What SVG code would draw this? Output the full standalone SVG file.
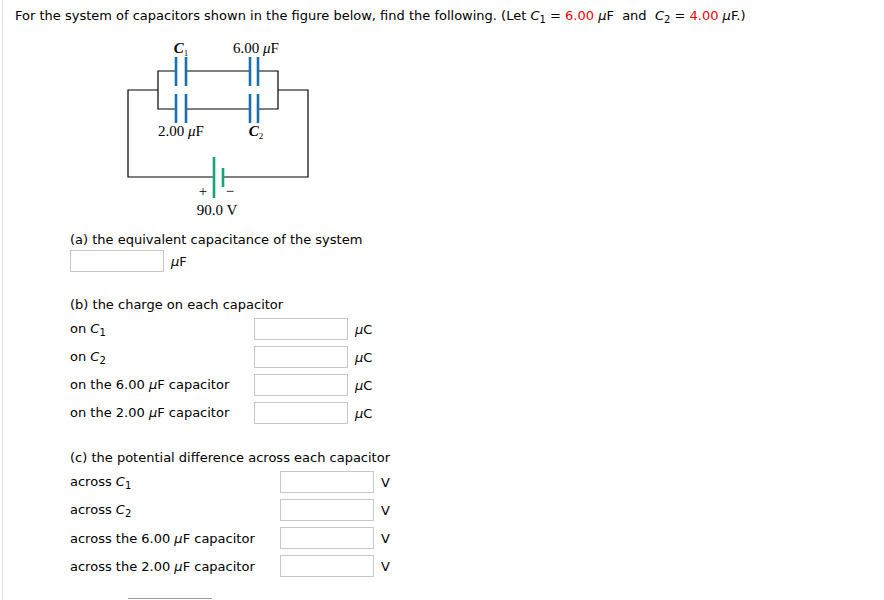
<svg xmlns="http://www.w3.org/2000/svg" width="884" height="600" viewBox="0 0 884 600">
<style>
.t{font-family:"DejaVu Sans",Verdana,sans-serif;font-size:13px;fill:#000}
.r{fill:#e00}
.s{font-family:"Liberation Serif","Times New Roman",serif;font-size:15px;fill:#000}
.w{stroke:#000;stroke-width:1.2;fill:none}
.p{stroke:#1a6fb0;stroke-width:2.6}
.b{stroke:#16a37c;stroke-width:2.6}
.box{fill:#fff;stroke:#c8c8c8;stroke-width:1}
</style>
<rect width="884" height="600" fill="#fff"/>
<line x1="2.5" y1="0" x2="2.5" y2="600" stroke="#ddd"/>
<text class="t" x="15" y="20" xml:space="preserve">For the system of capacitors shown in the figure below, find the following. (Let <tspan font-style="italic">C</tspan><tspan font-size="10" dy="3">1</tspan><tspan dy="-3"> = </tspan><tspan class="r">6.00</tspan> <tspan font-style="italic">μ</tspan>F  and  <tspan font-style="italic">C</tspan><tspan font-size="10" dy="3">2</tspan><tspan dy="-3"> = </tspan><tspan class="r">4.00</tspan> <tspan font-style="italic">μ</tspan>F.)</text>
<g id="circuit">
<path class="w" d="M176,71 H158 V109 H176 M186,109 H250 M258,109 H278 V71 H258 M250,71 H186"/>
<path class="w" d="M158,90 H128 V177 H214 M223,177 H308 V90 H278"/>
<line class="p" x1="176" y1="57" x2="176" y2="86"/><line class="p" x1="186" y1="57" x2="186" y2="86"/>
<line class="p" x1="176" y1="94" x2="176" y2="123"/><line class="p" x1="186" y1="94" x2="186" y2="123"/>
<line class="p" x1="250" y1="57" x2="250" y2="86"/><line class="p" x1="258" y1="57" x2="258" y2="86"/>
<line class="p" x1="250" y1="94" x2="250" y2="123"/><line class="p" x1="258" y1="94" x2="258" y2="123"/>
<line class="b" x1="214" y1="157" x2="214" y2="198"/><line class="b" x1="223" y1="168" x2="223" y2="187"/>
<text class="s" x="181" y="53" text-anchor="middle" font-weight="bold" font-style="italic">C<tspan font-size="9" dy="3" font-weight="normal" font-style="normal">1</tspan></text>
<text class="s" x="256" y="53" text-anchor="middle">6.00 <tspan font-style="italic">μ</tspan>F</text>
<text class="s" x="181" y="136" text-anchor="middle">2.00 <tspan font-style="italic">μ</tspan>F</text>
<text class="s" x="256" y="136" text-anchor="middle" font-weight="bold" font-style="italic">C<tspan font-size="9" dy="3" font-weight="normal" font-style="normal">2</tspan></text>
<text class="s" x="203" y="196" text-anchor="middle">+</text>
<text class="s" x="230" y="196" text-anchor="middle">−</text>
<text class="s" x="217" y="215" text-anchor="middle">90.0 V</text>
</g>
<text class="t" x="70" y="244">(a) the equivalent capacitance of the system</text>
<rect class="box" x="70.5" y="250.5" width="93" height="21"/>
<text class="t" x="171" y="266"><tspan font-style="italic">μ</tspan>F</text>
<text class="t" x="70" y="309">(b) the charge on each capacitor</text>
<text class="t" x="70" y="333">on <tspan font-style="italic">C</tspan><tspan font-size="10" dy="3">1</tspan></text>
<text class="t" x="70" y="361">on <tspan font-style="italic">C</tspan><tspan font-size="10" dy="3">2</tspan></text>
<text class="t" x="70" y="389">on the 6.00 <tspan font-style="italic">μ</tspan>F capacitor</text>
<text class="t" x="70" y="417">on the 2.00 <tspan font-style="italic">μ</tspan>F capacitor</text>
<rect class="box" x="254.5" y="318.5" width="93" height="21"/>
<rect class="box" x="254.5" y="346.5" width="93" height="21"/>
<rect class="box" x="254.5" y="374.5" width="93" height="21"/>
<rect class="box" x="254.5" y="402.5" width="93" height="21"/>
<text class="t" x="355" y="334"><tspan font-style="italic">μ</tspan>C</text>
<text class="t" x="355" y="362"><tspan font-style="italic">μ</tspan>C</text>
<text class="t" x="355" y="390"><tspan font-style="italic">μ</tspan>C</text>
<text class="t" x="355" y="418"><tspan font-style="italic">μ</tspan>C</text>
<text class="t" x="70" y="462">(c) the potential difference across each capacitor</text>
<text class="t" x="70" y="486">across <tspan font-style="italic">C</tspan><tspan font-size="10" dy="3">1</tspan></text>
<text class="t" x="70" y="514">across <tspan font-style="italic">C</tspan><tspan font-size="10" dy="3">2</tspan></text>
<text class="t" x="70" y="543">across the 6.00 <tspan font-style="italic">μ</tspan>F capacitor</text>
<text class="t" x="70" y="571">across the 2.00 <tspan font-style="italic">μ</tspan>F capacitor</text>
<rect class="box" x="280.5" y="471.5" width="93" height="21"/>
<rect class="box" x="280.5" y="499.5" width="93" height="21"/>
<rect class="box" x="280.5" y="527.5" width="93" height="21"/>
<rect class="box" x="280.5" y="555.5" width="93" height="21"/>
<text class="t" x="381" y="487">V</text>
<text class="t" x="381" y="515">V</text>
<text class="t" x="381" y="543">V</text>
<text class="t" x="381" y="571">V</text>
<line x1="128" y1="598.5" x2="212" y2="598.5" stroke="#999"/>
</svg>
